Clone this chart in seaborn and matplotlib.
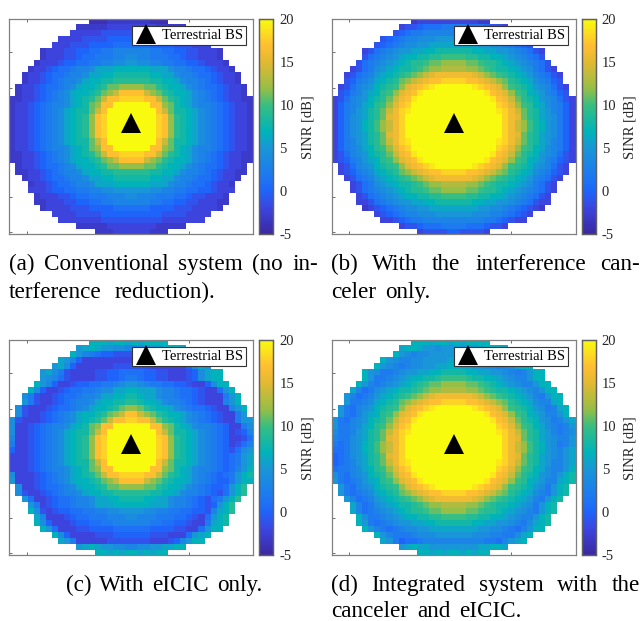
import numpy as np
import seaborn as sns
import matplotlib
matplotlib.use("Agg")
from matplotlib import pyplot as plt
from matplotlib.colors import LinearSegmentedColormap

# SINR cells, one letter per cell: a=-5 dB ... z=20 dB, "."=no data
# each row is written as its left half and right half
PANEL_A = [
    ".............bbbcccc" "cccbbb..............",
    "...........cccccdddd" "ddddccccc...........",
    "..........dddddeeeee" "eeeeeddddd..........",
    "........ddddeeeeffff" "ffffeeeedddd........",
    ".......dddeeeffffggg" "gggffffeeeddd.......",
    ".....cdddeeffgghhiii" "iiihhggffeedddc.....",
    ".....cdddeefgghhhiij" "jiihhhggfeedddc.....",
    "....cdddeffgghhiijjk" "kjjiihhggffedddc....",
    "...cddefgghiijlllmmm" "mmmllljiihggfeddc...",
    "..cddefgghiijllmmnnn" "nnnmmlljiihggfeddc..",
    "..cddefghiijlmmnnooo" "ooonnmmljiihgfeddc..",
    ".cddefgghijlmmnoqqrr" "rrqqonmmljihggfeddc.",
    ".cddefghijlmmnoqrtww" "wwtrqonmmljihgfeddc.",
    "ccddefghijlmnoqtwwxx" "xxwwtqonmljihgfeddcc",
    "cddefghiijlmnqrwwzzz" "zzzwwrqnmljiihgfeddc",
    "cddefghijlmnnqtwzzzz" "zzzzwtqnnmljihgfeddc",
    "cddefghijlmnorwxzzzz" "zzzzxwronmljihgfeddc",
    "cddefghijlmnorwxzzzz" "zzzzxwronmljihgfeddc",
    "cddefghijlmnorwxzzzz" "zzzzxwronmljihgfeddc",
    "cddefghijlmnorwxzzzz" "zzzzxwronmljihgfeddc",
    "cddefghijlmnnqtwzzzz" "zzzzwtqnnmljihgfeddc",
    "cddefghiijlmnqrwwzzz" "zzzwwrqnmljiihgfeddc",
    "ccddefghijlmnoqtwwxx" "xxwwtqonmljihgfeddcc",
    "ccddefghijlmmnoqrtww" "wwtrqonmmljihgfeddcc",
    ".cddefgghijlmmnoqqrr" "rrqqonmmljihggfeddc.",
    ".ccddefghiijlmmnnooo" "ooonnmmljiihgfeddcc.",
    "..cddefgghiijllmmnnn" "nnnmmlljiihggfeddc..",
    "...cddefgghiijlllmmm" "mmmllljiihggfeddc...",
    "...dddeffgghhiijjkkk" "kkkjjiihhggffeddd...",
    "....cdddeefgghhhiiij" "jiiihhhggfeedddc....",
    "....ccdddeeffgghhiii" "iiihhggffeedddcc....",
    ".....cddddeeeffffggg" "gggffffeeeddddc.....",
    ".......ddddeeeefffff" "fffffeeeedddd.......",
    "........dddddddeeeee" "eeeeeddddddd........",
    "...........cccccdddd" "ddddccccc...........",
    "..............cccddd" "dddccc..............",
]

PANEL_B = [
    ".............cdddddd" "ddddcc..............",
    "...........deefggghh" "hhgggfeed...........",
    "..........efghhiiiii" "iiiiihhgfe..........",
    "........efghiijjjkkk" "kkkjjjiihgfe........",
    ".......efghijjkkllll" "llllkkjjihgfe.......",
    ".....deghijkkllmmnnn" "nnnmmllkkjihged.....",
    ".....eghijklmmnnoopp" "ppoonnmmlkjihge.....",
    "....eghijklmnoopqqrr" "rrqqpoonmlkjihge....",
    "...deghjklmnnopqrrss" "ssrrqponnmlkjhged...",
    "..deghiklmnopqrtuvvv" "vvvutrqponmlkihged..",
    "..efhijlmnoqrtuvwwxx" "xxwwvutrqonmljihfe..",
    ".degijkmnopruvwxyzzz" "zzzyxwvurponmkjiged.",
    ".efhiklmopruvwyzzzzz" "zzzzzywvurpomlkihfe.",
    "degijkmnoqtvwyzzzzzz" "zzzzzzywvtqonmkjiged",
    "dfhijlmopruwxzzzzzzz" "zzzzzzzxwurpomljihfd",
    "dfhiklnoqtvxyzzzzzzz" "zzzzzzzyxvtqonlkihfd",
    "dfhjklnoquvxzzzzzzzz" "zzzzzzzzxvuqonlkjhfd",
    "dfhjkmnprtvxzzzzzzzz" "zzzzzzzzxvtrpnmkjhfd",
    "dfhjkmnprtvxzzzzzzzz" "zzzzzzzzxvtrpnmkjhfd",
    "dfhjklnoquvxzzzzzzzz" "zzzzzzzzxvuqonlkjhfd",
    "dfhiklnoqtvxyzzzzzzz" "zzzzzzzyxvtqonlkihfd",
    "dfhijlmopruwxzzzzzzz" "zzzzzzzxwurpomljihfd",
    "degijkmnoqtvwyzzzzzz" "zzzzzzywvtqonmkjiged",
    "defhiklmopruvwyzzzzz" "zzzzzywvurpomlkihfed",
    ".degijkmnopruvwxyzzz" "zzzyxwvurponmkjiged.",
    ".defhijlmnoqrtuvwwxx" "xxwwvutrqonmljihfed.",
    "..deghiklmnopqrtuvvv" "vvvutrqponmlkihged..",
    "...deghjklmnnopqrrss" "ssrrqponnmlkjhged...",
    "...deghijklmnoopqqrr" "rrqqpoonmlkjihged...",
    "....deghijklmmnnoopp" "ppoonnmmlkjihged....",
    "....ddeghijkkllmmnnn" "nnnmmllkkjihgedd....",
    ".....cdefghijjkkllll" "llllkkjjihgfedc.....",
    ".......defghiijjjkkk" "kkkjjjiihgfed.......",
    "........ddefghhiiiii" "iiiiihhgfedd........",
    "...........deefggghh" "hhgggfeed...........",
    "..............deeeef" "feeeed..............",
]

PANEL_C = [
    ".............mmmlmml" "mlmmmm..............",
    "...........klmlkkjji" "ijjkklmml...........",
    "..........mkihgffeee" "eeeffghikm..........",
    "........lkifdddddddd" "dddddddfikll........",
    ".......kljfddddddeee" "eeeddddddfjlk.......",
    ".....kljheddddeeffgg" "ggffeedddefjlmm.....",
    ".....kjigeddddeeffgh" "hgffeedddefjlmm.....",
    "....mkifddeffgghhijk" "kjihhggffeddfjmm....",
    "...mjfddefgghhijjllm" "mllljiihggfeddgkm...",
    "..jheddefgghiijllmmn" "nmlljiihggfedddhkm..",
    "..kheddefghiijlmmnno" "onmmljiihgfedddikm..",
    ".jedddefgghijlmmnoqr" "rqonmmljihggfeddikm.",
    ".jeddefghijlmmnoqrtw" "wtrqonmmljihgfeddhk.",
    "jedddefghijlmnoqtwwx" "xwwtqonmljihgfeddhkk",
    "jddefghiijlmnqrwwzzz" "zzzwwrqnmljiihgfddhj",
    "jddefghijlmnnqtwzzzz" "zzzzwtqnnmljihgfdefi",
    "iddefghijlmnorwxzzzz" "zzzzxwronmljihgfddeg",
    "hddefghijlmnorwxzzzz" "zzzzxwronmljihgfdegi",
    "fddefghijlmnorwxzzzz" "zzzzxwronmljihgfegjk",
    "dddefghijlmnorwxzzzz" "zzzzxwronmljihgfghkl",
    "dddefghijlmnnqtwzzzz" "zzzzwtqnnmljihgfghkl",
    "dddefghiijlmnqrwwzzz" "zzzwwrqnmljiihgfgikm",
    "jdddefghijlmnoqtwwxx" "xxwwtqonmljihgfghkmn",
    "kdddefghijlmmnoqrtww" "wwtrqonmmljihgffhkmm",
    ".jddefgghijlmmnoqqrr" "rrqqonmmljihgffgkmo.",
    ".jeddefghiijlmmnnooo" "ooonnmmljiihgfegkmo.",
    "..kgddefgghiijllmmnn" "nnmmlljiihgfeghkmo..",
    "...khdefgghiijlllmmm" "mmmllljiihgfefkmo...",
    "...mjedeffgghhiijjkk" "kkjjiihhggffeilmo...",
    "....lidddefgghhhiiij" "jiiihhhggfedgkmn....",
    "....mjfdddeffgghhiii" "iiihhggffeddhlmn....",
    ".....mkgdddeeffffggg" "gggffffeeddgkmm.....",
    ".......mjfddddeeefff" "fffeeedddgklm.......",
    "........lkhdddddeeee" "eeedddefikmm........",
    "...........klmlkkjji" "ijjkkllmm...........",
    "..............mmlmlm" "mlmlmm..............",
]

PANEL_D = [
    ".............mmmlmml" "mlmmmm..............",
    "...........lmmlkkjkk" "kkkklmmml...........",
    "..........mkjijjkkkk" "kkkkjjjklm..........",
    "........mkjiijjkkkkl" "lkkkkjjijkmm........",
    ".......mkjihijjkkllm" "mllkkjjiijlmm.......",
    ".....mkjhhijkkllmmnn" "nnmmllkkjihikmm.....",
    ".....mkhhijklmmnnopp" "pponnmmlkjiikmm.....",
    "....mkihijklmnopqqrr" "rrqqponmlkjiikmm....",
    "...lighjklmnnopqrrss" "ssrrqponnmlkjikmm...",
    "..kighiklmnopqrtuvvv" "vvvutrqponmlkihkmm..",
    "..khhijlmnoqrtuvwwxx" "xxwwvutrqonmljiilm..",
    ".khgijkmnopruvwxyzzz" "zzzyxwvurponmkjhilm.",
    ".khgiklmopruvwyzzzzz" "zzzzzywvurpomlkiikm.",
    "khgijkmnoqtvwyzzzzzz" "zzzzzzywvtqonmkjhikl",
    "khhijlmopruwxzzzzzzz" "zzzzzzzxwurpomljihik",
    "jhhiklnoqtvxyzzzzzzz" "zzzzzzzyxvtqonlkihij",
    "ihhjklnoquvxzzzzzzzz" "zzzzzzzzxvuqonlkjiik",
    "hghjkmnprtvxzzzzzzzz" "zzzzzzzzxvtrpnmkjhik",
    "gghjkmnprtvxzzzzzzzz" "zzzzzzzzxvtrpnmkjikl",
    "fghjklnoquvxzzzzzzzz" "zzzzzzzzxvuqonlkjikl",
    "fghiklnoqtvxyzzzzzzz" "zzzzzzzyxvtqonlkiikl",
    "ghhijlmopruwxzzzzzzz" "zzzzzzzxwurpomljiikm",
    "jhgijkmnoqtvwyzzzzzz" "zzzzzzywvtqonmkjikmn",
    "khghiklmopruvwyzzzzz" "zzzzzywvurpomlkiilmn",
    ".khgijkmnopruvwxyzzz" "zzzyxwvurponmkjhkmn.",
    ".khghijlmnoqrtuvwwxx" "xxwwvutrqonmljihkmn.",
    "..kighiklmnopqrtuvvv" "vvvutrqponmlkihkmn..",
    "...lighjklmnnopqrrss" "ssrrqponnmlkjhkmn...",
    "...lighijklmnoopqqrr" "rrqqpoonmlkjihkmn...",
    "....mjhhijklmmnnoopp" "ppoonnmmlkjiikmn....",
    "....mkhghijkkllmmnnn" "nnnmmllkkjihjlmn....",
    ".....mkihghijjkkllll" "llllkkjjihgikmm.....",
    ".......mkihhhijjjkkk" "kkkjjjiihhjlm.......",
    "........lkhfgghiiiii" "iiiiihhgiklm........",
    "...........klmllkkkk" "kkkkllmml...........",
    "..............mmlmlm" "mlmlmm..............",
]

CBAR_TICKS = [-5, 0, 5, 10, 15, 20]
CBAR_LABELS = ["-5", "0", "5", "10", "15", "20"]
X_TICKS = [2.95, 16.2, 29.5]
Y_TICKS = [5.6, 11.6, 17.6, 23.5, 29.7, 35.5]
BS_POS = (20, 17.5)

W, H = 644, 621
SERIF = "Liberation Serif"
GREY = "#262626"

# colour bar of the picture, sampled by eye
parula = LinearSegmentedColormap.from_list("parula", [
    (0.0, "#3c28a0"),
    (0.125, "#3c46e1"),
    (0.2, "#1e64fa"),
    (0.25, "#1e73f5"),
    (0.4, "#1996d7"),
    (0.48, "#00b4b9"),
    (0.6, "#37be82"),
    (0.68, "#96be46"),
    (0.8, "#e1b932"),
    (0.88, "#ffbe32"),
    (1.0, "#f9fb0e"),
])


def decode(rows):
    out = []
    for r in rows:
        r = r.ljust(40, ".")[:40]
        out.append([np.nan if c == "." else ord(c) - ord("a") - 5 for c in r])
    return np.array(out, dtype=float)


def box(x0, y0, x1, y1):
    return [x0 / W, 1 - y1 / H, (x1 - x0) / W, (y1 - y0) / H]


def panel(fig, rows, left, top):
    ax = fig.add_axes(box(left, top, left + 244, top + 215))
    cax = fig.add_axes(box(left + 250, top, left + 264, top + 215))
    sns.heatmap(decode(rows), ax=ax, cbar_ax=cax, cmap=parula, vmin=-5, vmax=20,
                xticklabels=False, yticklabels=False)
    ax.set_ylim(35.9, 0.22)
    ax.set_xticks(X_TICKS)
    ax.set_yticks(Y_TICKS)
    ax.tick_params(length=2.2, width=0.6, color="#555555", direction="in",
                   top=True, bottom=True, left=True, right=False,
                   labelleft=False, labelbottom=False)
    for s in ax.spines.values():
        s.set_visible(True)
        s.set_linewidth(0.9)
        s.set_color("#808080")
    ax.plot([BS_POS[0]], [BS_POS[1]], "^", color="black", ms=14.5, mew=0,
            linestyle="none", label="Terrestrial BS")
    leg = ax.legend(loc="upper right", bbox_to_anchor=(0.971, 0.97), borderaxespad=0,
                    fancybox=False, framealpha=1, edgecolor="#333333",
                    prop={"family": SERIF, "size": 10.5}, handlelength=1.5,
                    handletextpad=0.35, borderpad=0.2, labelcolor="black")
    leg.get_frame().set_linewidth(0.8)

    cax.set_yticks(CBAR_TICKS)
    cax.set_yticklabels(CBAR_LABELS, family=SERIF, fontsize=10.5, color=GREY)
    cax.tick_params(length=2, width=0.5, color=GREY, pad=4.5, direction="in")
    cax.yaxis.set_ticks_position("right")
    cax.set_ylabel("SINR [dB]", family=SERIF, fontsize=10.5, color=GREY, labelpad=5)
    cax.yaxis.set_label_position("right")
    for s in cax.spines.values():
        s.set_visible(True)
        s.set_linewidth(0.9)
        s.set_color("#606060")


def caption(fig, words, x0, y, x1):
    # stretch the gaps so the line fills x0..x1, as in a justified column
    renderer = fig.canvas.get_renderer()
    texts = [fig.text(x0 / W, 1 - y / H, w, family=SERIF, fontsize=16.7,
                      color="black", va="baseline") for w in words]
    widths = [t.get_window_extent(renderer).width for t in texts]
    gap = (x1 - x0 - sum(widths)) / max(len(words) - 1, 1)
    x = x0
    for t, w in zip(texts, widths):
        t.set_x(x / W)
        x += w + gap


sns.set_theme(style="white")
fig = plt.figure(figsize=(W / 100, H / 100), dpi=100)

panel(fig, PANEL_A, 9.3, 19.3)
panel(fig, PANEL_B, 331.5, 19.3)
panel(fig, PANEL_C, 9.3, 340.3)
panel(fig, PANEL_D, 331.5, 340.3)

caption(fig, "(a) Conventional system (no in-".split(), 9, 270, 318)
caption(fig, "terference reduction).".split(), 9, 298, 215)
caption(fig, "(b) With the interference can-".split(), 331, 270, 640)
caption(fig, "celer only.".split(), 331, 298, 430)
caption(fig, "(c) With eICIC only.".split(), 66, 591, 262)
caption(fig, "(d) Integrated system with the".split(), 331, 591, 640)
caption(fig, "canceler and eICIC.".split(), 331, 617, 522)

fig.savefig("out.png", dpi=100)
